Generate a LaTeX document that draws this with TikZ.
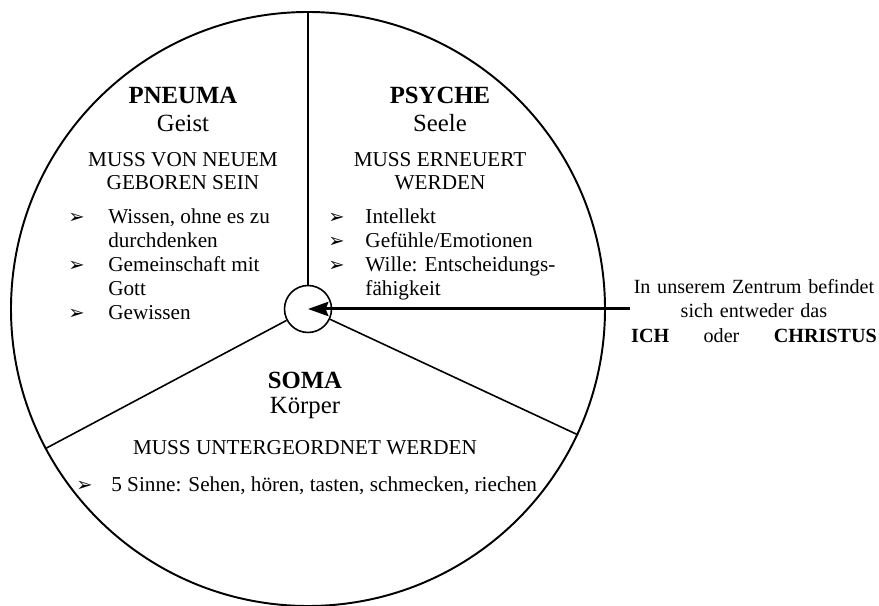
\documentclass[tikz,border=0pt]{standalone}
\usepackage{fontspec}
\setmainfont{Liberation Serif}
\newfontfamily\dingfont{DejaVu Sans}
\usetikzlibrary{arrows.meta,positioning}
\newcommand{\bul}{{\dingfont\fontsize{11}{11}\selectfont ➢}}
\tikzset{
  title/.style={font=\fontsize{14}{16}\selectfont\bfseries, inner sep=0pt},
  sub/.style={font=\fontsize{14}{16}\selectfont, inner sep=0pt},
  task/.style={font=\fontsize{12}{13}\selectfont, align=center, inner sep=0pt},
  list/.style={font=\fontsize{12}{13.6}\selectfont, inner sep=0pt, anchor=north west},
  spoke/.style={draw, line width=0.9pt},
  pointer/.style={draw, line width=1.7pt, -{Stealth[length=11.5pt, width=8pt, inset=1.5pt]}}
}
\begin{document}
\begin{tikzpicture}[x=0.566pt, y=0.566pt]
	\useasboundingbox (0,0) rectangle (879,606);
	% circle and centre
	\node [circle, draw, line width=1.1pt, inner sep=0pt, minimum size=336.2pt] (whole) at (308,297) {};
	\node [circle, draw, line width=0.9pt, inner sep=0pt, minimum size=26.6pt] (core) at (308,297) {};
	\draw [spoke] (core.90) -- (whole.90);
	\draw [spoke] (core.208.8) -- (whole.208.8);
	\draw [spoke] (core.335) -- (whole.335);

	% pneuma
	\node [title] (pneuma) at (183,511) {PNEUMA};
	\node [sub] (geist) at (183,483) {Geist};
	\node [task] (pneumatask) at (183,434.5) {MUSS VON NEUEM\\GEBOREN SEIN};
	\node [list] (pneumalist) at (68,400) {\begin{tabular}{@{}p{22.6pt}@{}l@{}}
		\bul & Wissen, ohne es zu\\
		     & durchdenken\\
		\bul & Gemeinschaft mit\\
		     & Gott\\
		\bul & Gewissen
	\end{tabular}};

	% psyche
	\node [title] (psyche) at (440,511) {PSYCHE};
	\node [sub] (seele) at (440,483) {Seele};
	\node [task] (psychetask) at (440,434.5) {MUSS ERNEUERT\\WERDEN};
	\node [list] (psychelist) at (328,400) {\begin{tabular}{@{}p{21pt}@{}l@{}}
		\bul & Intellekt\\
		\bul & Gefühle/Emotionen\\
		\bul & Wille: Entscheidungs-\\
		     & fähigkeit
	\end{tabular}};

	% soma
	\node [title] (soma) at (305,226) {SOMA};
	\node [sub] (koerper) at (305,198) {Körper};
	\node [task] (somatask) at (305,158) {MUSS UNTERGEORDNET WERDEN};
	\node [list, anchor=west] (somalist) at (76,120) {\makebox[19.8pt][l]{\bul}5 Sinne: Sehen, hören, tasten, schmecken, riechen};

	% centre note
	\node [font=\fontsize{11.4}{13.6}\selectfont, text width=139pt, align=center, inner sep=0pt] (note) at (754,295)
		{\mbox{In unserem Zentrum befindet}\\ sich entweder das\\ \hbox to\hsize{\textbf{ICH}\hfill oder\hfill\textbf{CHRISTUS}}};
	\coordinate (tail) at (630,297);
	\path [pointer] (tail) -- (core.center);
\end{tikzpicture}
\end{document}
